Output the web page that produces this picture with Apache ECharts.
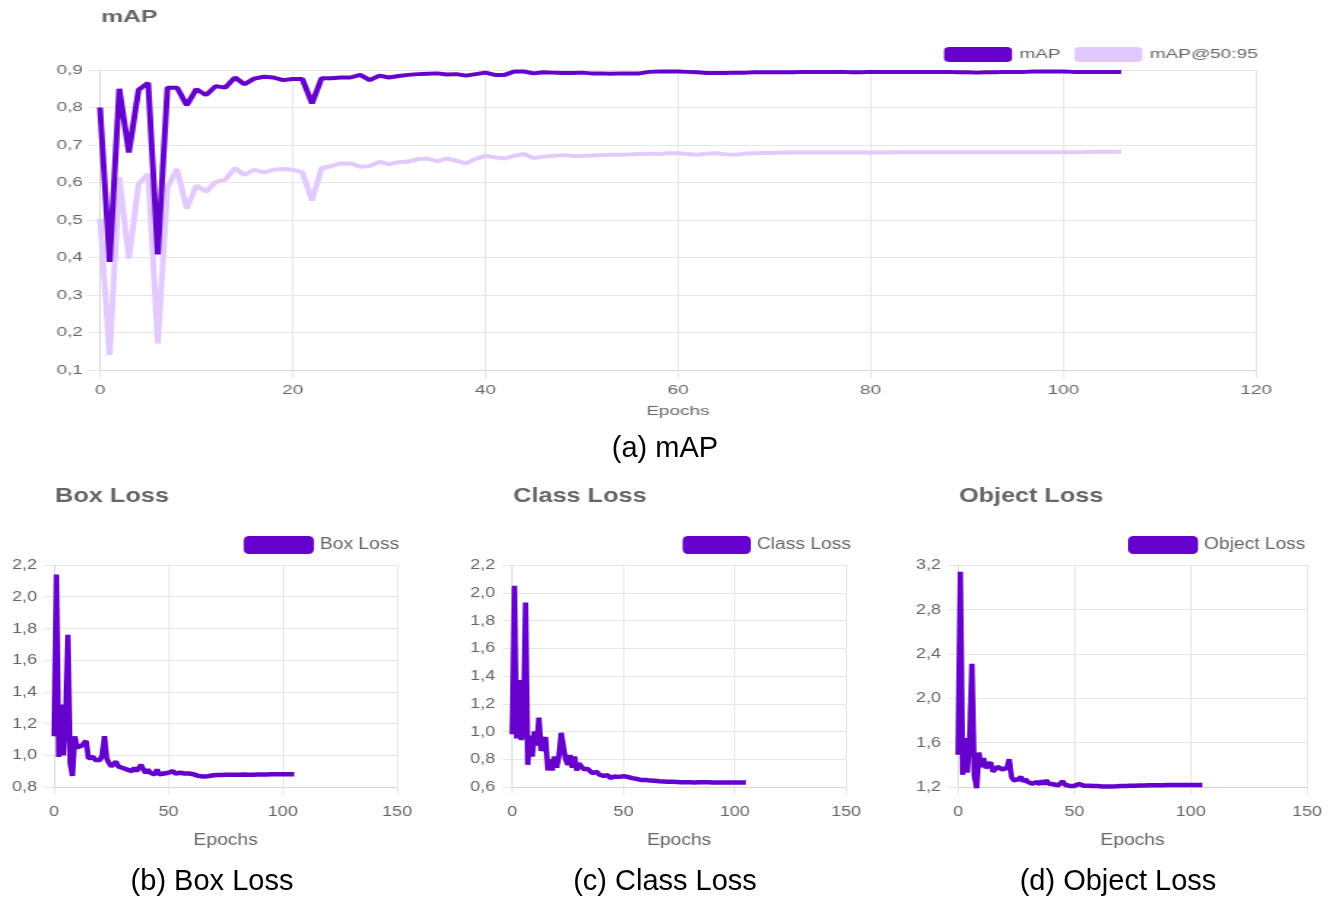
<!DOCTYPE html>
<html><head><meta charset="utf-8">
<script src="https://cdn.jsdelivr.net/npm/echarts@6/dist/echarts.min.js"></script>
<style>
html,body{margin:0;padding:0;background:#fff;}
#wrap{position:relative;width:1338px;height:899px;overflow:hidden;background:#fff;}
.c{position:absolute;top:0;transform-origin:0 0;}
</style></head><body>
<div id="wrap">
<div id="cap" class="c" style="left:0;width:1338px;height:899px"></div>
<div id="top" class="c"></div>
<div id="box" class="c"></div>
<div id="cls" class="c"></div>
<div id="obj" class="c"></div>
</div>
<script>
// ---------------- data ----------------
const mapVals = [0.800,0.388,0.850,0.680,0.847,0.866,0.408,0.853,0.853,0.806,
 0.849,0.833,0.857,0.853,0.880,0.862,0.877,0.882,0.880,0.873,
 0.876,0.876,0.811,0.878,0.878,0.880,0.880,0.887,0.873,0.885,
 0.880,0.884,0.887,0.889,0.890,0.891,0.888,0.889,0.885,0.889,
 0.893,0.887,0.887,0.896,0.896,0.891,0.894,0.893,0.892,0.892,
 0.893,0.891,0.891,0.890,0.891,0.891,0.891,0.895,0.896,0.896,
 0.896,0.895,0.894,0.892,0.892,0.892,0.893,0.893,0.894,0.894,
 0.894,0.894,0.894,0.895,0.895,0.895,0.895,0.895,0.894,0.894,
 0.895,0.895,0.895,0.895,0.895,0.895,0.895,0.895,0.895,0.894,
 0.894,0.893,0.894,0.894,0.895,0.895,0.895,0.896,0.896,0.896,
 0.896,0.895,0.895,0.895,0.895,0.895,0.895];
const map5095Vals = [0.503,0.140,0.614,0.397,0.596,0.623,0.171,0.587,0.636,0.530,
 0.592,0.576,0.601,0.608,0.638,0.620,0.634,0.627,0.634,0.636,
 0.634,0.627,0.552,0.638,0.644,0.651,0.651,0.642,0.644,0.655,
 0.649,0.654,0.656,0.662,0.664,0.656,0.664,0.658,0.651,0.663,
 0.671,0.667,0.664,0.671,0.676,0.665,0.669,0.671,0.673,0.671,
 0.671,0.672,0.673,0.674,0.674,0.675,0.676,0.677,0.676,0.678,
 0.678,0.676,0.674,0.677,0.678,0.675,0.674,0.677,0.678,0.679,
 0.679,0.680,0.680,0.680,0.680,0.680,0.680,0.680,0.680,0.680,
 0.680,0.680,0.680,0.681,0.681,0.681,0.681,0.681,0.681,0.681,
 0.681,0.681,0.681,0.681,0.681,0.681,0.681,0.681,0.681,0.681,
 0.681,0.681,0.681,0.682,0.682,0.682,0.682];
const boxLoss = [1.12,2.14,0.99,1.32,1.00,1.22,1.76,0.95,0.87,1.12,
 1.05,1.04,1.06,1.05,1.09,0.98,0.98,0.99,0.97,0.96,
 0.97,1.00,1.12,0.98,0.95,0.93,0.94,0.96,0.93,0.92,
 0.92,0.92,0.91,0.91,0.90,0.92,0.90,0.91,0.94,0.91,
 0.89,0.91,0.89,0.90,0.88,0.91,0.88,0.88,0.885,0.885,
 0.89,0.895,0.90,0.885,0.88,0.89,0.885,0.885,0.885,0.885,
 0.885,0.88,0.875,0.87,0.868,0.866,0.866,0.868,0.87,0.872,
 0.874,0.875,0.875,0.876,0.876,0.877,0.877,0.877,0.878,0.878,
 0.878,0.878,0.879,0.879,0.878,0.878,0.878,0.878,0.879,0.879,
 0.879,0.879,0.879,0.879,0.880,0.880,0.880,0.880,0.880,0.880,
 0.880,0.880,0.880,0.880,0.880,0.880];
const classLoss = [0.98,2.05,0.95,1.37,0.94,0.98,1.93,0.76,0.97,0.82,
 1.00,0.90,1.10,0.86,0.85,0.96,0.72,0.80,0.72,0.82,
 0.74,0.82,0.99,0.99,0.80,0.76,0.83,0.74,0.82,0.72,
 0.77,0.76,0.73,0.74,0.73,0.72,0.70,0.69,0.71,0.69,
 0.70,0.68,0.685,0.685,0.665,0.67,0.675,0.672,0.673,0.675,
 0.678,0.67,0.672,0.668,0.664,0.662,0.658,0.652,0.65,0.652,
 0.65,0.648,0.646,0.645,0.645,0.643,0.642,0.641,0.64,0.638,
 0.638,0.637,0.637,0.636,0.636,0.636,0.635,0.635,0.634,0.634,
 0.634,0.633,0.633,0.634,0.634,0.635,0.635,0.634,0.634,0.634,
 0.633,0.633,0.633,0.633,0.633,0.632,0.632,0.632,0.632,0.632,
 0.632,0.632,0.632,0.632,0.632,0.632];
const objectLoss = [1.49,3.14,1.31,1.64,1.33,1.65,2.31,1.30,1.19,1.51,
 1.38,1.46,1.37,1.40,1.42,1.34,1.36,1.38,1.37,1.36,
 1.35,1.37,1.45,1.29,1.26,1.26,1.27,1.29,1.25,1.27,
 1.245,1.25,1.23,1.225,1.245,1.225,1.255,1.225,1.26,1.23,
 1.235,1.225,1.23,1.215,1.225,1.25,1.22,1.21,1.21,1.212,
 1.21,1.215,1.227,1.215,1.212,1.212,1.212,1.21,1.21,1.21,
 1.208,1.206,1.205,1.205,1.205,1.205,1.205,1.205,1.206,1.207,
 1.208,1.209,1.21,1.21,1.211,1.212,1.212,1.213,1.213,1.214,
 1.214,1.215,1.215,1.215,1.215,1.216,1.216,1.216,1.216,1.216,
 1.217,1.217,1.217,1.217,1.217,1.218,1.218,1.218,1.218,1.218,
 1.218,1.218,1.218,1.218,1.218,1.218];

const mapXTicks = [0, 20, 40, 60, 80, 100, 120];
const mapYTicks = [0.1, 0.2, 0.3, 0.4, 0.5, 0.6, 0.7, 0.8, 0.9];
const lossXTicks = [0, 50, 100, 150];
const boxYTicks = [0.8, 1.0, 1.2, 1.4, 1.6, 1.8, 2.0, 2.2];
const classYTicks = [0.6, 0.8, 1.0, 1.2, 1.4, 1.6, 1.8, 2.0, 2.2];
const objectYTicks = [1.2, 1.6, 2.0, 2.4, 2.8, 3.2];

const captions = ['(a) mAP', '(b) Box Loss', '(c) Class Loss', '(d) Object Loss'];

// ---------------- rendering ----------------
const FONT = '"Liberation Sans", Arial, Helvetica, sans-serif';
const DARK = '#6600cc';
const LIGHT = '#e2c9ff';
const GRID = '#e6e6e6';
const AXIS = '#d6d6d6';
const TXT = '#666666';

function fmt(v){ return (Math.round(v*10)/10).toFixed(1).replace('.', ','); }
function pairs(ys){ return ys.map(function(y,i){ return [i, y]; }); }
function tickSpec(t){ return {min: t[0], max: t[t.length-1], interval: Math.round((t[1]-t[0])*100)/100}; }

function makePanel(id, cfg){
  const s = cfg.sx;
  const el = document.getElementById(id);
  const w = cfg.w / s;
  el.style.left = cfg.x0 + 'px';
  el.style.top = cfg.y0 + 'px';
  el.style.width = w + 'px';
  el.style.height = cfg.h + 'px';
  el.style.transform = 'scaleX(' + s + ')';
  const ch = echarts.init(el, null, {renderer: 'canvas', width: w, height: cfg.h});
  const X = function(v){ return (v - cfg.x0) / s; };
  const Y = function(v){ return v - cfg.y0; };
  const xs = tickSpec(cfg.xTicks), ys = tickSpec(cfg.yTicks);
  const series = cfg.series.map(function(sr){
    return {
      name: sr.name, type: 'line', data: pairs(sr.data),
      showSymbol: false, symbol: 'none', z: sr.z,
      lineStyle: {width: cfg.lw, color: sr.color, join: 'bevel'},
      itemStyle: {color: sr.color},
      emphasis: {disabled: true}
    };
  });
  ch.setOption({
    animation: false,
    backgroundColor: 'transparent',
    textStyle: {fontFamily: FONT},
    title: {
      text: cfg.title, left: X(cfg.titleX), top: Y(cfg.titleY), padding: 0,
      textStyle: {fontFamily: FONT, fontSize: cfg.titleSize, fontWeight: 'bold', color: TXT}
    },
    legend: {
      left: X(cfg.legX), top: Y(cfg.legY), padding: 0,
      icon: 'roundRect', itemWidth: cfg.legW / s, itemHeight: cfg.legH,
      itemGap: cfg.legGap / s, selectedMode: false,
      data: cfg.series.map(function(sr){ return sr.name; }),
      textStyle: {fontFamily: FONT, fontSize: cfg.legSize, color: TXT}
    },
    grid: {left: X(cfg.gx), top: Y(cfg.gy), width: cfg.gw / s, height: cfg.gh},
    xAxis: {
      type: 'value', min: xs.min, max: xs.max, interval: xs.interval,
      name: 'Epochs', nameLocation: 'middle', nameGap: cfg.nameGap,
      nameTextStyle: {fontFamily: FONT, fontSize: cfg.nameSize, color: TXT},
      axisLine: {show: true, onZero: false, lineStyle: {color: AXIS, width: 1}},
      axisTick: {show: true, length: 8, lineStyle: {color: GRID}},
      axisLabel: {fontFamily: FONT, fontSize: cfg.tickSize, color: TXT, margin: cfg.xMargin},
      splitLine: {show: true, lineStyle: {color: GRID, width: 1}}
    },
    yAxis: {
      type: 'value', min: ys.min, max: ys.max, interval: ys.interval,
      axisLine: {show: true, lineStyle: {color: AXIS, width: 1}},
      axisTick: {show: true, length: 8, lineStyle: {color: GRID}},
      axisLabel: {fontFamily: FONT, fontSize: cfg.tickSize, color: TXT, margin: cfg.yMargin / s, formatter: fmt},
      splitLine: {show: true, lineStyle: {color: GRID, width: 1}}
    },
    series: series
  });
  return ch;
}

// top mAP panel (source figure is horizontally stretched)
makePanel('top', {
  sx: 1.46, x0: 0, y0: 0, w: 1338, h: 430,
  title: 'mAP', titleX: 101, titleY: 9, titleSize: 17,
  legX: 944, legY: 47, legW: 68, legH: 15, legGap: 14, legSize: 13,
  gx: 100, gy: 70, gw: 1156, gh: 300,
  xTicks: mapXTicks, yTicks: mapYTicks,
  tickSize: 13, xMargin: 14, yMargin: 17, nameGap: 35, nameSize: 13, lw: 4,
  series: [
    {name: 'mAP', data: mapVals, color: DARK, z: 3},
    {name: 'mAP@50:95', data: map5095Vals, color: LIGHT, z: 2}
  ]
});

function lossPanel(id, x0, w, title, gx, gw, legX, legW, yTicks, name, vals){
  return makePanel(id, {
    sx: 1.2, x0: x0, y0: 470, w: w, h: 400,
    title: title, titleX: gx + 1, titleY: 486, titleSize: 21,
    legX: legX, legY: 536, legW: legW, legH: 18, legGap: 10, legSize: 16,
    gx: gx, gy: 565, gw: gw, gh: 222,
    xTicks: lossXTicks, yTicks: yTicks,
    tickSize: 15, xMargin: 17, yMargin: 17, nameGap: 46, nameSize: 16, lw: 4.5,
    series: [{name: name, data: vals, color: DARK, z: 3}]
  });
}
lossPanel('box', 0, 440, 'Box Loss', 54, 342, 243, 70, boxYTicks, 'Box Loss', boxLoss);
lossPanel('cls', 450, 440, 'Class Loss', 512, 333, 682, 68, classYTicks, 'Class Loss', classLoss);
lossPanel('obj', 900, 438, 'Object Loss', 958, 349, 1128, 70, objectYTicks, 'Object Loss', objectLoss);

// captions
const capChart = echarts.init(document.getElementById('cap'), null, {renderer: 'canvas', width: 1338, height: 899});
const capPos = [[665, 449], [212, 882], [665, 882], [1118, 882]];
capChart.setOption({
  animation: false,
  backgroundColor: '#ffffff',
  graphic: captions.map(function(t, i){
    return {type: 'text', x: capPos[i][0], y: capPos[i][1],
      style: {text: t, fill: '#000', font: '29px "Liberation Sans", Arial, sans-serif',
        textAlign: 'center', textVerticalAlign: 'middle'}};
  })
});
</script>
</body></html>
